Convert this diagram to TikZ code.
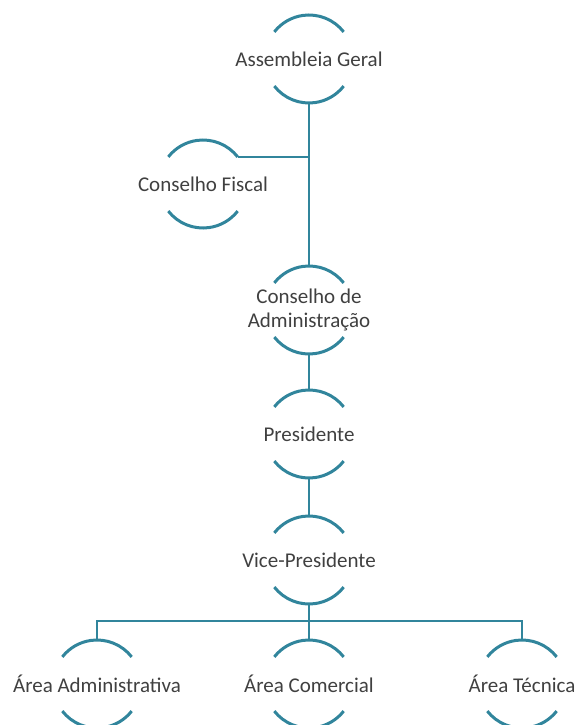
\documentclass[tikz,border=0pt]{standalone}
\usepackage{fontspec}
\setmainfont{Carlito}
\begin{document}
\begin{tikzpicture}[x=1pt,y=1pt,
  every node/.style={font=\fontsize{21}{24}\selectfont, text=txtgrey},
  orgnode/.style={inner sep=0pt, align=center},
  arcline/.style={draw=lineblue, line width=3pt},
  conn/.style={draw=lineblue, line width=2.8pt}]
\definecolor{lineblue}{RGB}{49,133,156}
\definecolor{txtgrey}{RGB}{64,64,64}
\useasboundingbox (0,0) rectangle (577,-725);
\node[orgnode] (A) at (309,-59) {Assembleia Geral};
\node[orgnode] (F) at (203,-184) {Conselho Fiscal};
\node[orgnode] (C) at (309,-310) {Conselho de\\Administração};
\node[orgnode] (P) at (309,-434) {Presidente};
\node[orgnode] (V) at (309,-560) {Vice-Presidente};
\node[orgnode] (B1) at (97,-684) {Área Administrativa};
\node[orgnode] (B2) at (309,-684) {Área Comercial};
\node[orgnode] (B3) at (522,-684) {Área Técnica};
\foreach \n in {A,F,C,P,V,B1,B2,B3}{
  \coordinate (\n-t) at ([yshift=44pt]\n.center);
  \coordinate (\n-b) at ([yshift=-44pt]\n.center);
  \coordinate (\n-r) at ([shift={(38:44pt)}]\n.center);
  \draw[arcline] (\n-r) arc[start angle=38, end angle=142, radius=44pt];
  \draw[arcline] ([shift={(218:44pt)}]\n.center) arc[start angle=218, end angle=322, radius=44pt];
}
\coordinate (bus) at (309,-621);
\draw[conn] (A-b) -- (C-t);
\draw[conn] (F-r) -- (F-r -| A-b);
\draw[conn] (C-b) -- (P-t);
\draw[conn] (P-b) -- (V-t);
\draw[conn] (V-b) -- (B2-t);
\draw[conn] (B1-t) -- (B1-t |- bus) -- (B3-t |- bus) -- (B3-t);
\end{tikzpicture}
\end{document}
